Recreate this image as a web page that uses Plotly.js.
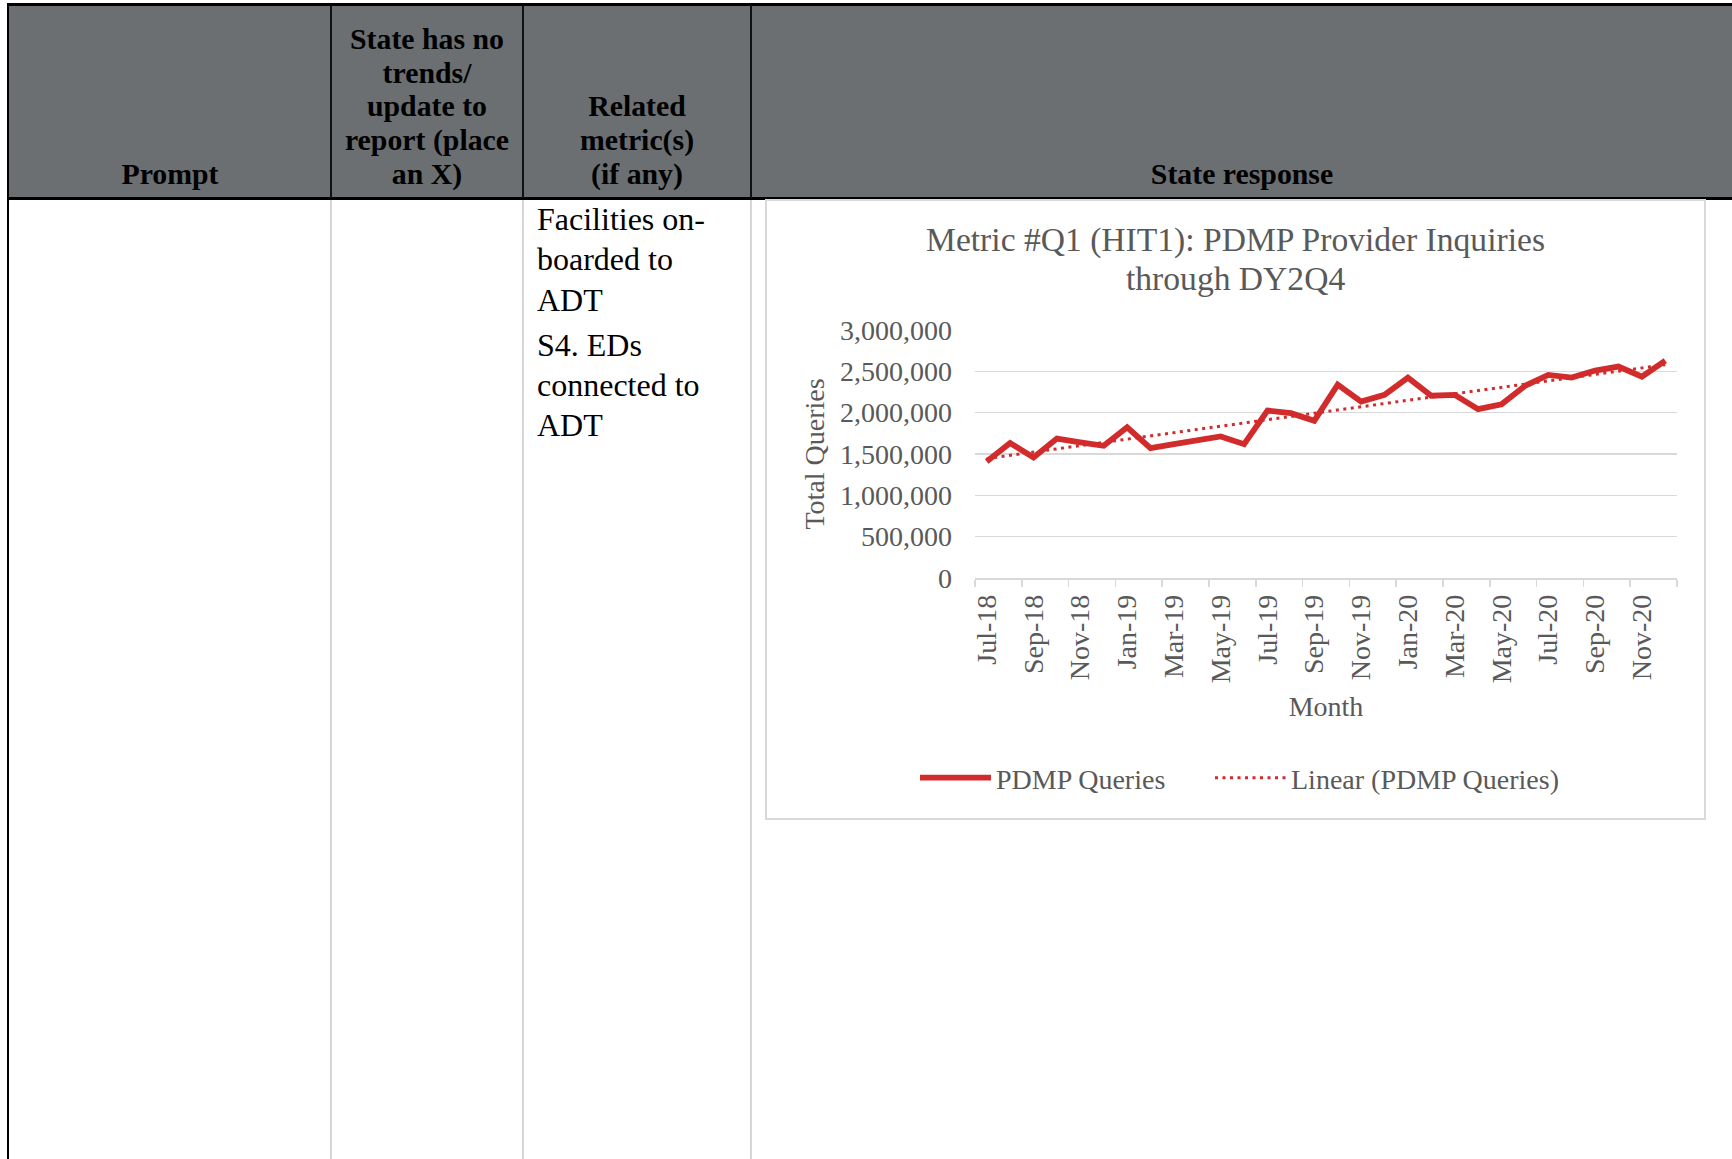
<!DOCTYPE html>
<html><head><meta charset="utf-8">
<script src="https://cdn.plot.ly/plotly-3.0.1.min.js"></script>
<style>
html,body{margin:0;padding:0;background:#fff;}
body{width:1732px;height:1159px;position:relative;overflow:hidden;font-family:"Liberation Serif","Times New Roman",serif;}
.abs{position:absolute;}
.hdr{position:absolute;font-weight:bold;font-size:29.8px;line-height:33.7px;text-align:center;color:#000;white-space:nowrap;}
.cell{position:absolute;font-size:32px;line-height:40.3px;color:#000;white-space:nowrap;}
.cell p{margin:0 0 5px 0;}
</style></head><body>
<!-- header background and table rules -->
<div class="abs" style="left:9px;top:5px;width:1723px;height:193px;background:#6b6f71"></div>
<div class="abs" style="left:7px;top:3px;width:1725px;height:3px;background:#000"></div>
<div class="abs" style="left:7px;top:197px;width:1725px;height:3px;background:#000"></div>
<div class="abs" style="left:7px;top:3px;width:2px;height:1156px;background:#000"></div>
<div class="abs" style="left:330px;top:5px;width:2px;height:193px;background:#111"></div>
<div class="abs" style="left:522px;top:5px;width:2px;height:193px;background:#111"></div>
<div class="abs" style="left:750px;top:5px;width:2px;height:193px;background:#111"></div>
<div class="abs" style="left:330px;top:200px;width:2px;height:959px;background:#d6d6da"></div>
<div class="abs" style="left:522px;top:200px;width:2px;height:959px;background:#d6d6da"></div>
<div class="abs" style="left:750px;top:200px;width:2px;height:959px;background:#d6d6da"></div>

<div class="hdr" style="left:9px;width:322px;top:156.5px">Prompt</div>
<div class="hdr" style="left:332px;width:190px;top:21.9px">State has no<br>trends/<br>update to<br>report (place<br>an X)</div>
<div class="hdr" style="left:524px;width:226px;top:89.4px">Related<br>metric(s)<br>(if any)</div>
<div class="hdr" style="left:752px;width:980px;top:156.5px">State response</div>

<div class="cell" style="left:537px;top:199px">
<p>Facilities on-<br>boarded to<br>ADT</p>
<p>S4. EDs<br>connected to<br>ADT</p>
</div>

<div id="chart" class="abs" style="left:765px;top:199px;width:941px;height:621px;"></div>
<div class="abs" style="left:765px;top:199px;width:941px;height:621px;box-sizing:border-box;border:2px solid #d9d9d9;pointer-events:none;"></div>

<script>
const months = ['Jul-18','Aug-18','Sep-18','Oct-18','Nov-18','Dec-18',
  'Jan-19','Feb-19','Mar-19','Apr-19','May-19','Jun-19','Jul-19','Aug-19','Sep-19','Oct-19','Nov-19','Dec-19',
  'Jan-20','Feb-20','Mar-20','Apr-20','May-20','Jun-20','Jul-20','Aug-20','Sep-20','Oct-20','Nov-20','Dec-20'];
const pdmpQueries = [1410000,1632000,1458000,1687000,1640000,1599000,
  1824000,1570000,1620000,1670000,1712000,1619000,2026000,1994000,1901000,2340000,2134000,2215000,
  2424000,2205000,2215000,2042000,2102000,2324000,2457000,2424000,2509000,2557000,2436000,2630000];
const seriesName = 'PDMP Queries';
const trendName = 'Linear (PDMP Queries)';
const titleLines = ['Metric #Q1 (HIT1): PDMP Provider Inquiries', 'through DY2Q4'];
const xTitle = 'Month';
const yTitle = 'Total Queries';

const idx = months.map((m, i) => i);
// least-squares linear trendline of the series (as Excel's "Linear" trendline)
const n = pdmpQueries.length;
const mx = idx.reduce((a, b) => a + b, 0) / n;
const my = pdmpQueries.reduce((a, b) => a + b, 0) / n;
let sxy = 0, sxx = 0;
idx.forEach((x, i) => { sxy += (x - mx) * (pdmpQueries[i] - my); sxx += (x - mx) * (x - mx); });
const slope = sxy / sxx, icpt = my - slope * mx;
const trendX = [idx[0], idx[n - 1]];
const trendY = trendX.map(x => icpt + slope * x);

const labelIdx = idx.filter(i => i % 2 === 0);
const boundaries = idx.filter(i => i % 2 === 0).map(i => i - 0.5).concat([n - 0.5]);

const red = '#d12b2b';
const grey = '#595959';
const fontFam = '"Liberation Serif", "Times New Roman", serif';

const traces = [
  {x: idx, y: pdmpQueries, type: 'scatter', mode: 'lines', name: seriesName, legend: 'legend',
   line: {color: red, width: 5.8}},
  {x: trendX, y: trendY, type: 'scatter', mode: 'lines', name: trendName, legend: 'legend2',
   line: {color: red, width: 3, dash: '3px,4.5px'}}
];

const W = 941, H = 621, ML = 210, MR = 29, MT = 130.5, MB = 242;
const plotW = W - ML - MR, plotH = H - MT - MB;
const legendBase = {orientation: 'h', xref: 'container', xanchor: 'left',
  y: 1 - 579 / H, yref: 'container', yanchor: 'middle', itemwidth: 71,
  font: {family: fontFam, size: 28, color: grey}, bgcolor: 'rgba(0,0,0,0)'};

const layout = {
  width: W, height: H,
  margin: {l: ML, r: MR, t: MT, b: MB, pad: 0},
  paper_bgcolor: '#fff', plot_bgcolor: '#fff',
  font: {family: fontFam, size: 28, color: grey},
  title: {text: titleLines[0], font: {family: fontFam, size: 33.6, color: grey},
    x: 0.5, xref: 'container', xanchor: 'center', y: 1 - 40.7 / H, yref: 'container', yanchor: 'middle'},
  annotations: [{text: titleLines[1], showarrow: false, font: {family: fontFam, size: 33.6, color: grey},
    xref: 'paper', yref: 'paper', x: (W / 2 - ML) / plotW, y: (H - MB - 78.5) / plotH,
    xanchor: 'center', yanchor: 'middle'}],
  showlegend: true,
  legend: Object.assign({}, legendBase, {x: 150 / W}),
  legend2: Object.assign({}, legendBase, {x: 445 / W}),
  xaxis: {type: 'linear', range: [-0.5, n - 0.5], tickmode: 'array', tickvals: labelIdx,
    ticktext: labelIdx.map(i => months[i]), tickangle: -90, ticks: '',
    showgrid: false, zeroline: false, showline: true, linecolor: '#d9d9d9', linewidth: 1.5,
    ticklabelstandoff: 4,
    minor: {tickmode: 'array', tickvals: boundaries, ticks: 'outside', ticklen: 7, tickwidth: 1.5,
      tickcolor: '#d9d9d9', showgrid: false},
    title: {text: xTitle, font: {family: fontFam, size: 28, color: grey}, standoff: 14},
    fixedrange: true},
  yaxis: {range: [0, 3000000], tickmode: 'linear', tick0: 0, dtick: 500000, tickformat: ',d',
    showgrid: true, gridcolor: '#d9d9d9', gridwidth: 1.5, zeroline: false, showline: false, ticks: '',
    ticklabelstandoff: 22,
    title: {text: yTitle, font: {family: fontFam, size: 28, color: grey}, standoff: 7},
    fixedrange: true},
  hovermode: false
};

Plotly.newPlot('chart', traces, layout, {displayModeBar: false, staticPlot: true});
</script>
</body></html>
